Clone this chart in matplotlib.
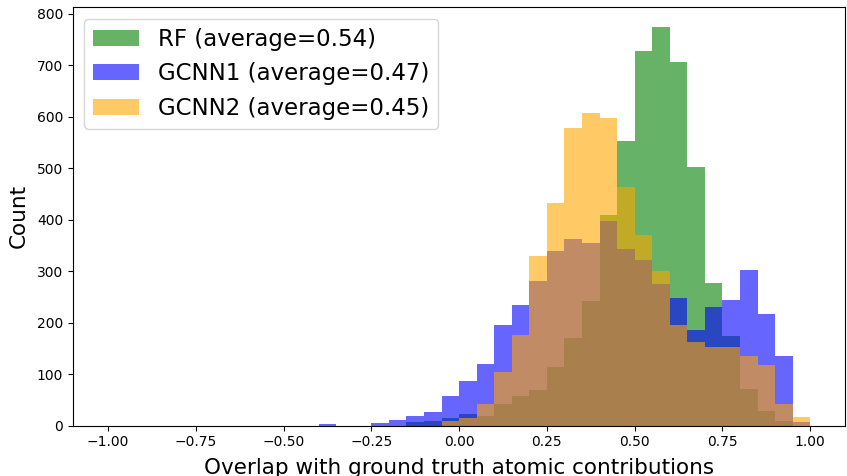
"""Overlap histogram of RF vs GCNN atomic contributions."""

import matplotlib

matplotlib.use("Agg")
import matplotlib.pyplot as plt
import numpy as np

# 40 bins of width 0.05 over [-1, 1]
bin_edges = np.linspace(-1.0, 1.0, 41)

# counts per bin (left edge -1.00 ... 0.95)
rf_counts = [
    0, 0, 0, 0, 0, 0, 0, 0, 0, 0,
    0, 0, 0, 0, 0, 0, 0, 6, 8, 14,
    22, 18, 41, 57, 69, 113, 170, 242, 409, 552,
    727, 774, 707, 502, 277, 174, 71, 28, 8, 0,
]
gcnn1_counts = [
    0, 0, 0, 0, 0, 0, 0, 0, 0, 0,
    0, 0, 3, 0, 0, 5, 10, 18, 26, 57,
    86, 119, 195, 234, 281, 339, 362, 354, 397, 343,
    321, 274, 247, 185, 230, 243, 302, 216, 135, 6,
]
gcnn2_counts = [
    0, 0, 0, 0, 0, 0, 0, 0, 0, 0,
    0, 0, 0, 0, 0, 0, 0, 0, 0, 8,
    14, 41, 104, 175, 329, 432, 578, 608, 597, 463,
    371, 300, 195, 162, 152, 152, 135, 117, 41, 16,
]

labels = ["RF (average=0.54)", "GCNN1 (average=0.47)", "GCNN2 (average=0.45)"]
colors = ["green", "blue", "orange"]

fig = plt.figure(figsize=(8.47, 4.76), dpi=100)
ax = fig.add_axes([0.086, 0.106, 0.912, 0.879])

centers = 0.5 * (bin_edges[:-1] + bin_edges[1:])
for counts, label, color in zip([rf_counts, gcnn1_counts, gcnn2_counts], labels, colors):
    ax.hist(centers, bins=bin_edges, weights=counts, alpha=0.6, color=color, label=label)

ax.set_xlabel("Overlap with ground truth atomic contributions", fontsize=15.5, labelpad=6)
ax.set_ylabel("Count", fontsize=15.5, labelpad=6)
ax.legend(loc="upper left", fontsize=16.5)

fig.savefig("out.png", dpi=100)
